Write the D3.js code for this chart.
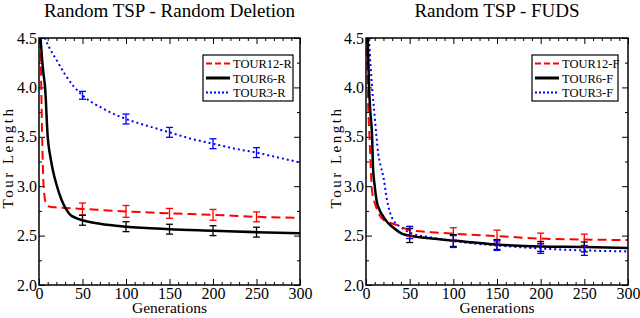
<!DOCTYPE html>
<html><head><meta charset="utf-8">
<script src="https://cdn.jsdelivr.net/npm/d3@7"></script>
<style>body{margin:0;background:#fff}svg{display:block}text{font-family:"Liberation Serif","Times New Roman",serif}</style>
</head><body><svg id="c" width="640" height="318"></svg>
<script>
// ---------- data ----------
const titles = ["Random TSP - Random Deletion", "Random TSP - FUDS"];
const xTicks = [0, 50, 100, 150, 200, 250, 300];
const yTicks = [2.0, 2.5, 3.0, 3.5, 4.0, 4.5];
const errGens = [50, 100, 150, 200, 250];

// Left panel (Random Deletion)
const labelsR = ["TOUR12-R", "TOUR6-R", "TOUR3-R"];
const genR12 = [0, 1, 2, 3, 4, 5, 6, 7, 8, 10, 14, 20, 30, 50, 100, 150, 200, 250, 300];
const valR12 = [5.2, 4.75, 4.3, 3.8, 3.35, 3.05, 2.92, 2.86, 2.83, 2.80, 2.79, 2.785, 2.78, 2.77, 2.745, 2.725, 2.71, 2.69, 2.68];
const genR6 = [0, 1, 3, 5, 7, 10, 13, 16, 20, 26, 31, 36, 42, 50, 70, 100, 150, 200, 250, 300];
const valR6 = [5.3, 4.7, 4.35, 4.15, 4.0, 3.5, 3.3, 3.16, 3.02, 2.86, 2.77, 2.71, 2.68, 2.655, 2.62, 2.59, 2.565, 2.55, 2.535, 2.525];
const genR3 = [0, 4, 7, 12, 20, 30, 40, 50, 75, 100, 125, 150, 175, 200, 225, 250, 275, 300];
const valR3 = [4.75, 4.6, 4.5, 4.4, 4.28, 4.13, 4.01, 3.92, 3.78, 3.68, 3.61, 3.545, 3.48, 3.43, 3.38, 3.34, 3.29, 3.24];
const errR12 = [0.06, 0.06, 0.05, 0.055, 0.05];
const errR6 = [0.05, 0.05, 0.05, 0.05, 0.05];
const errR3 = [0.04, 0.05, 0.05, 0.05, 0.05];
const meanR12 = [2.77, 2.745, 2.725, 2.71, 2.69];
const meanR6 = [2.655, 2.59, 2.565, 2.55, 2.535];
const meanR3 = [3.92, 3.68, 3.545, 3.43, 3.34];

// Right panel (FUDS)
const labelsF = ["TOUR12-F", "TOUR6-F", "TOUR3-F"];
const genF12 = [0, 1, 2, 4, 7, 10, 13, 16, 20, 27, 35, 50, 75, 100, 150, 200, 250, 300];
const valF12 = [5.4, 4.6, 4.0, 3.5, 2.95, 2.83, 2.76, 2.70, 2.66, 2.63, 2.61, 2.555, 2.535, 2.52, 2.495, 2.47, 2.46, 2.455];
const genF6 = [0, 2, 3.5, 5, 7, 8, 10, 12, 16, 20, 25, 30, 41, 50, 75, 100, 150, 200, 250, 300];
const valF6 = [5.5, 4.5, 4.0, 3.75, 3.5, 3.2, 3.0, 2.86, 2.75, 2.69, 2.63, 2.59, 2.52, 2.5, 2.47, 2.45, 2.41, 2.39, 2.385, 2.375];
const genF3 = [0, 3.5, 7, 10, 12, 14, 17, 20, 24, 31, 41, 50, 75, 100, 150, 200, 250, 300];
const valF3 = [5.4, 4.5, 4.0, 3.7, 3.5, 3.33, 3.2, 3.09, 2.86, 2.66, 2.58, 2.53, 2.48, 2.445, 2.40, 2.37, 2.35, 2.34];
const errF12 = [0.05, 0.06, 0.06, 0.06, 0.06];
const errF6 = [0.07, 0.06, 0.05, 0.05, 0.05];
const errF3 = [0.06, 0.06, 0.05, 0.05, 0.05];
const meanF12 = [2.545, 2.52, 2.495, 2.465, 2.455];
const meanF6 = [2.5, 2.45, 2.41, 2.39, 2.385];
const meanF3 = [2.53, 2.44, 2.40, 2.37, 2.35];

// ---------- styles ----------
const FONT = '"Liberation Serif","Times New Roman",serif';
const styles = [
  {color: "#ff0000", width: 2, dash: "9,5"},
  {color: "#000000", width: 2.5, dash: null},
  {color: "#0000ff", width: 2, dash: "2,3"}
];

const panels = [
  {title: titles[0], left: 39, right: 300, labels: labelsR, ylabX: 13,
   series: [[genR12, valR12], [genR6, valR6], [genR3, valR3]],
   errs: [[meanR12, errR12], [meanR6, errR6], [meanR3, errR3]],
   legend: {x0: 203, x1: 293}},
  {title: titles[1], left: 366, right: 628, labels: labelsF, ylabX: 341,
   series: [[genF12, valF12], [genF6, valF6], [genF3, valF3]],
   errs: [[meanF12, errF12], [meanF6, errF6], [meanF3, errF3]],
   legend: {x0: 532, x1: 618}}
];

const svg = d3.select("#c");
const plotTop = 38, plotBottom = 285;

panels.forEach((p, pi) => {
  const x = d3.scaleLinear().domain([0, 300]).range([p.left, p.right]);
  const y = d3.scaleLinear().domain([2, 4.5]).range([plotBottom, plotTop]);
  const g = svg.append("g");
  const clipId = "clip" + pi;
  svg.append("clipPath").attr("id", clipId).append("rect")
    .attr("x", p.left).attr("y", plotTop).attr("width", p.right - p.left).attr("height", plotBottom - plotTop);

  const minorX = d3.range(0, 301, 10).filter(v => v % 50 !== 0);
  const minorY = [2.25, 2.75, 3.25, 3.75, 4.25];
  const mk = (axis, tr, vals, size, labels) => {
    const a = g.append("g").attr("transform", tr)
      .call(axis.tickValues(vals).tickSize(size));
    a.attr("font-family", null);
    if (!labels) a.selectAll("text").remove();
    a.select(".domain").remove();
    a.selectAll("line").attr("stroke", "#000").attr("stroke-width", 1);
    return a;
  };
  const fmtX = d3.format("d"), fmtY = d3.format(".1f");
  const bx = mk(d3.axisBottom(x).tickFormat(fmtX), `translate(0,${plotBottom})`, xTicks, -6, true);
  bx.selectAll("text").attr("y", 3).attr("dy", "0.71em").attr("font-size", 16).attr("fill", "#000")
    .style("font-family", FONT);
  mk(d3.axisBottom(x), `translate(0,${plotBottom})`, minorX, -3, false);
  mk(d3.axisTop(x), `translate(0,${plotTop})`, xTicks, -6, false);
  mk(d3.axisTop(x), `translate(0,${plotTop})`, minorX, -3, false);
  const ly = mk(d3.axisLeft(y).tickFormat(fmtY), `translate(${p.left},0)`, yTicks, -6, true);
  ly.selectAll("text").attr("x", -2).attr("font-size", 16).attr("fill", "#000")
    .style("font-family", FONT);
  mk(d3.axisLeft(y), `translate(${p.left},0)`, minorY, -3, false);
  mk(d3.axisRight(y), `translate(${p.right},0)`, yTicks, -6, false);
  mk(d3.axisRight(y), `translate(${p.right},0)`, minorY, -3, false);

  const line = d3.line().x(d => x(d[0])).y(d => y(d[1])).curve(d3.curveMonotoneX);
  const lg = g.append("g").attr("clip-path", `url(#${clipId})`);
  [2, 0, 1].forEach(i => {
    const [gens, vals] = p.series[i];
    const pts = gens.map((gv, k) => [gv, vals[k]]);
    lg.append("path").attr("d", line(pts)).attr("fill", "none")
      .attr("stroke", styles[i].color).attr("stroke-width", styles[i].width)
      .attr("stroke-dasharray", styles[i].dash);
  });
  [0, 1, 2].forEach(i => {
    const [means, errs] = p.errs[i];
    errGens.forEach((gv, k) => {
      const cx = x(gv), y0 = y(means[k] - errs[k]), y1 = y(means[k] + errs[k]);
      const eg = lg.append("g").attr("stroke", styles[i].color).attr("stroke-width", 1.3);
      eg.append("line").attr("x1", cx).attr("x2", cx).attr("y1", y0).attr("y2", y1);
      eg.append("line").attr("x1", cx - 3.5).attr("x2", cx + 3.5).attr("y1", y0).attr("y2", y0);
      eg.append("line").attr("x1", cx - 3.5).attr("x2", cx + 3.5).attr("y1", y1).attr("y2", y1);
    });
  });

  g.append("rect").attr("x", p.left).attr("y", plotTop).attr("width", p.right - p.left)
    .attr("height", plotBottom - plotTop).attr("fill", "none").attr("stroke", "#000").attr("stroke-width", 1.5);

  g.append("text").attr("x", (p.left + p.right) / 2).attr("y", 17).attr("text-anchor", "middle")
    .attr("font-size", 19).style("font-family", FONT).text(p.title);
  g.append("text").attr("x", (p.left + p.right) / 2).attr("y", 313).attr("text-anchor", "middle")
    .attr("font-size", 15.5).style("font-family", FONT).text("Generations");
  g.append("text").attr("transform", `translate(${p.ylabX},${(plotTop + plotBottom) / 2 - 4}) rotate(-90)`)
    .attr("text-anchor", "middle").attr("font-size", 15).attr("letter-spacing", 2.5)
    .style("font-family", FONT).text("Tour Length");

  const L = p.legend;
  g.append("rect").attr("x", L.x0).attr("y", 55).attr("width", L.x1 - L.x0).attr("height", 46)
    .attr("fill", "#fff").attr("stroke", "#000").attr("stroke-width", 1.2);
  p.labels.forEach((lab, i) => {
    const yy = 63.5 + i * 14.5;
    g.append("line").attr("x1", L.x0 + 3).attr("x2", L.x0 + 27).attr("y1", yy).attr("y2", yy)
      .attr("stroke", styles[i].color).attr("stroke-width", i === 1 ? 3 : 2)
      .attr("stroke-dasharray", i === 0 ? "6,3" : (i === 2 ? "2,2" : null));
    g.append("text").attr("x", L.x0 + 30).attr("y", yy + 4.5).attr("font-size", 12.5)
      .style("font-family", FONT).text(lab);
  });
});
</script></body></html>
